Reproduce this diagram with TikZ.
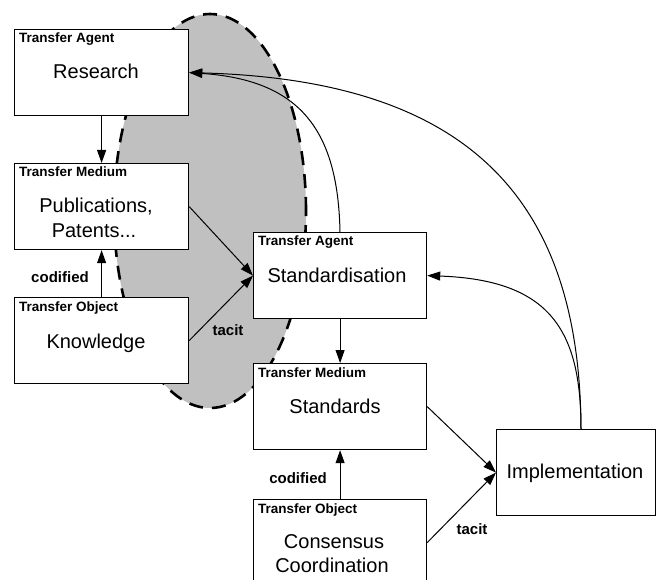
\documentclass[tikz,border=0pt]{standalone}
\usepackage{fontspec}
\setmainfont{Liberation Sans}
\usetikzlibrary{arrows.meta}
\definecolor{blobgray}{HTML}{C0C0C0}
\begin{document}
\begin{tikzpicture}[x=1pt,y=-1pt,
  box/.style={draw, line width=1.2pt, fill=white, minimum width=174pt, minimum height=86pt, inner sep=0pt, anchor=north west},
  lbl/.style={font=\fontsize{13.5}{16}\selectfont\bfseries, inner sep=0pt, anchor=base west},
  main/.style={font=\fontsize{20}{24}\selectfont, inner sep=0pt, anchor=base},
  elbl/.style={font=\fontsize{15}{18}\selectfont\bfseries, inner sep=0pt},
  arr/.style={line width=1pt, -{Triangle[length=13pt,width=9pt]}},
  crv/.style={line width=1pt}
]
\useasboundingbox (0,0) rectangle (656,580);
% shaded region
\draw[fill=blobgray, line width=2.6pt, dash pattern=on 14pt off 9pt] (210,211) ellipse [x radius=96pt, y radius=197pt];

% boxes
\node[box] (research) at (14,29) {};
\node[box] (pub) at (14,163) {};
\node[box] (know) at (14,297) {};
\node[box, minimum width=173pt] (stand) at (253,232) {};
\node[box, minimum width=173pt] (stds) at (253,363) {};
\node[box, minimum width=173pt] (cons) at (253,499) {};
\node[box, minimum width=159pt] (impl) at (496,429) {};

% box texts
\node[lbl] (researchL) at (19,43) {Transfer Agent};
\node[main] (researchT) at (96,79) {Research};
\node[lbl] (pubL) at (19,177) {Transfer Medium};
\node[main] (pubT1) at (96,213) {Publications,};
\node[main] (pubT2) at (94,237) {Patents...};
\node[lbl] (knowL) at (19,311) {Transfer Object};
\node[main] (knowT) at (96,348) {Knowledge};
\node[lbl] (standL) at (258,246) {Transfer Agent};
\node[main] (standT) at (337,282) {Standardisation};
\node[lbl] (stdsL) at (258,377) {Transfer Medium};
\node[main] (stdsT) at (335,413) {Standards};
\node[lbl] (consL) at (258,513) {Transfer Object};
\node[main] (consT1) at (334,548) {Consensus};
\node[main] (consT2) at (332,572) {Coordination};
\node[main] (implT) at (575,478) {Implementation};

% straight connectors
\draw[arr] (research.south) -- (pub.north);
\draw[arr] (know.north) -- (pub.south);
\draw[arr] (pub.east) -- (stand.west);
\draw[arr] (know.east) -- (stand.west);
\draw[arr] (stand.south) -- (stds.north);
\draw[arr] (cons.north) -- (stds.south);
\draw[arr] (stds.east) -- (impl.west);
\draw[arr] (cons.east) -- (impl.west);

% curved connectors
\coordinate (implTop) at (581,429);
\coordinate (standTop) at (340,232);
\draw[arr] (implTop) .. controls (580,200) and (470,80) .. (research.east);
\draw[arr] (standTop) .. controls (338,130) and (300,80) .. (research.east);
\draw[arr] (implTop) .. controls (581,330) and (550,280) .. (stand.east);

% edge labels
\node[elbl] (cod1) at (60,277) {codified};
\node[elbl] (tac1) at (228,330) {tacit};
\node[elbl] (cod2) at (298,478) {codified};
\node[elbl] (tac2) at (472,529) {tacit};
\end{tikzpicture}
\end{document}
